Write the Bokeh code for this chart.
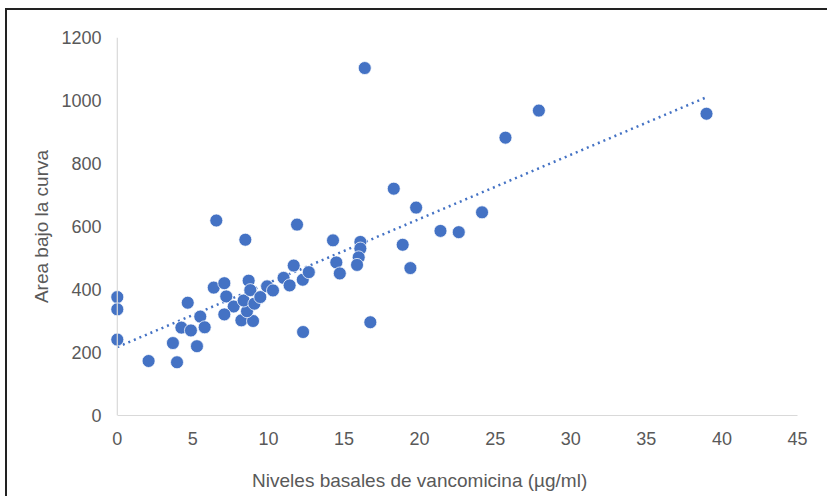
import numpy as np
from bokeh.plotting import figure
from bokeh.models import Range1d, FixedTicker, Span
from bokeh.embed import file_html
from bokeh.resources import INLINE

# Data
niveles = [0, 0, 0, 2.07, 3.95, 3.68, 4.66, 4.24, 4.87, 5.49,
           5.78, 5.27, 6.38, 6.55, 8.47, 7.08, 7.21, 7.70, 7.08, 8.21,
           8.98, 8.58, 8.36, 8.69, 8.80, 9.07, 9.46, 9.91, 10.3, 11.0,
           11.4, 11.67, 12.27, 12.67, 12.29, 14.27, 14.49, 14.72, 16.08, 16.08,
           15.97, 15.86, 16.74, 16.37, 18.29, 19.77, 21.38, 22.59, 24.13, 18.88,
           19.39, 11.89, 27.89, 25.68, 38.98]
area = [376, 337, 241, 173, 169, 230, 358, 279, 270, 314,
        280, 220, 406, 619, 558, 420, 378, 346, 321, 302,
        300, 331, 365, 428, 398, 355, 376, 410, 397, 437,
        413, 476, 431, 455, 265, 556, 486, 451, 551, 530,
        502, 478, 296, 1103, 720, 660, 586, 582, 645, 542,
        468, 606, 968, 882, 958]
x_ticks = [0, 5, 10, 15, 20, 25, 30, 35, 40, 45]
y_ticks = [0, 200, 400, 600, 800, 1000, 1200]
x_title = "Niveles basales de vancomicina (µg/ml)"
y_title = "Area bajo la curva"

FONT = "Liberation Sans"
GRAY_TXT = "#595959"
AXIS_GRAY = "#D9D9D9"
BLUE = "#4472C4"

p = figure(width=822, height=488, output_backend="svg", toolbar_location=None,
           x_range=Range1d(-0.45, 45), y_range=Range1d(0, 1200),
           min_border_left=103, min_border_right=32,
           min_border_top=27, min_border_bottom=83)
p.styles = {"border-left": "2px solid #222222", "border-top": "2px solid #222222",
            "margin-left": "5px", "margin-top": "8px"}
p.outline_line_color = None
p.background_fill_color = "white"
p.border_fill_color = "white"
p.xgrid.visible = False
p.ygrid.visible = False

# Trendline (least squares) across the data range
slope, intercept = np.polyfit(niveles, area, 1)
tx = [0, max(niveles)]
ty = [intercept + slope * v for v in tx]
p.line(tx, ty, line_color=BLUE, line_width=2.5, line_dash="2 4")

p.scatter(niveles, area, size=13, fill_color=BLUE, line_color="white",
          line_width=0.75)

# y axis line at x = 0
p.add_layout(Span(location=0, dimension="height", line_color=AXIS_GRAY,
                  line_width=1.2))

xa = p.xaxis[0]
xa.ticker = FixedTicker(ticks=x_ticks)
xa.bounds = (0, 45)
xa.axis_line_color = AXIS_GRAY
xa.axis_line_width = 1.2
xa.major_tick_line_color = None
xa.minor_tick_line_color = None
xa.major_label_standoff = 10
xa.major_label_text_font = FONT
xa.major_label_text_font_size = "18px"
xa.major_label_text_color = GRAY_TXT
# trailing no-break spaces shift the centred title left, as in the original
xa.axis_label = x_title + "\u00a0" * 13
xa.axis_label_standoff = 22
xa.axis_label_text_font = FONT
xa.axis_label_text_font_size = "19px"
xa.axis_label_text_font_style = "normal"
xa.axis_label_text_color = GRAY_TXT

ya = p.yaxis[0]
ya.ticker = FixedTicker(ticks=y_ticks)
ya.axis_line_color = None
ya.major_tick_line_color = None
ya.minor_tick_line_color = None
ya.major_label_standoff = 3
ya.major_label_text_font = FONT
ya.major_label_text_font_size = "18px"
ya.major_label_text_color = GRAY_TXT
ya.axis_label = y_title
ya.axis_label_standoff = 6
ya.axis_label_text_font = FONT
ya.axis_label_text_font_size = "19px"
ya.axis_label_text_font_style = "normal"
ya.axis_label_text_color = GRAY_TXT

open("out.html", "w").write(file_html(p, INLINE))
